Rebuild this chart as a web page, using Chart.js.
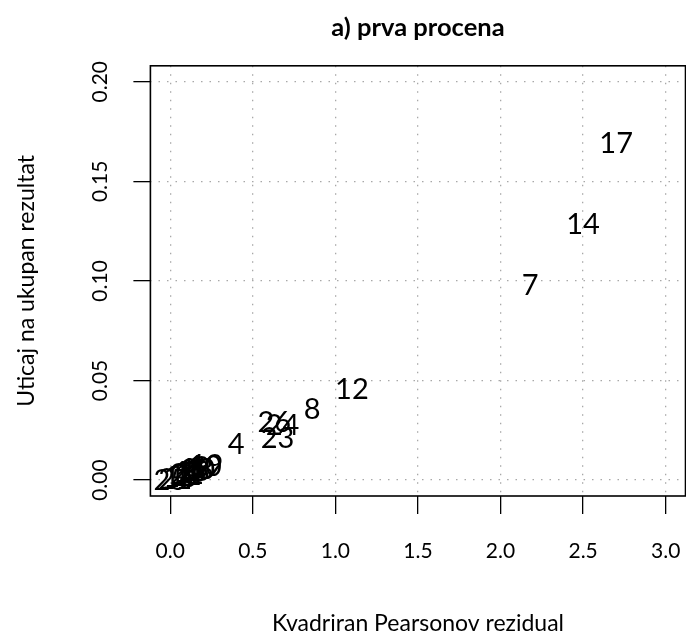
<!DOCTYPE html>
<html>
<head>
<meta charset="utf-8">
<script src="https://cdn.jsdelivr.net/npm/chart.js@4/dist/chart.umd.min.js"></script>
<style>
  html, body { margin: 0; padding: 0; background: #ffffff; }
  #wrap { width: 686px; height: 635px; }
</style>
</head>
<body>
<div id="wrap"><canvas id="chart" width="686" height="635"></canvas></div>
<script>
// Case numbers, squared Pearson residuals and influence on the overall result
const caseIds = [25, 21, 16, 2, 11, 22, 5, 15, 1, 13, 3, 18, 20, 6, 9, 10, 19,
                 4, 23, 26, 24, 8, 12, 7, 14, 17];
const pearsonSq = [0.00, 0.03, 0.06, 0.08, 0.09, 0.10, 0.11, 0.12, 0.13, 0.14, 0.15, 0.16, 0.17, 0.18, 0.19, 0.21, 0.22,
                   0.40, 0.65, 0.63, 0.68, 0.86, 1.10, 2.18, 2.50, 2.70];
const influence = [0.0002, 0.0010, 0.0020, 0.0025, 0.0030, 0.0035, 0.0040, 0.0045, 0.0050, 0.0050, 0.0055, 0.0060, 0.0060, 0.0065, 0.0070, 0.0075, 0.0080,
                   0.0181, 0.0213, 0.0296, 0.0280, 0.0357, 0.0457, 0.0980, 0.1286, 0.1693];

const xTickValues = [0, 0.5, 1, 1.5, 2, 2.5, 3];
const yTickValues = [0, 0.05, 0.10, 0.15, 0.20];

const chartTitle = 'a) prva procena';
const xTitle = 'Kvadriran Pearsonov rezidual';
const yTitle = 'Uticaj na ukupan rezultat';

const FONT = 'Lato';
const LABEL_SIZE = 29;

// Each case number is written at its own point, centred on it
const caseLabels = {
  id: 'caseLabels',
  afterDatasetsDraw(chart) {
    const ctx = chart.ctx;
    const meta = chart.getDatasetMeta(0);
    ctx.save();
    ctx.fillStyle = '#000000';
    ctx.font = LABEL_SIZE + 'px ' + FONT;
    ctx.textAlign = 'center';
    ctx.textBaseline = 'alphabetic';
    meta.data.forEach((pt, i) => {
      ctx.fillText(String(caseIds[i]), pt.x, pt.y + LABEL_SIZE * 0.36);
    });
    ctx.restore();
  }
};

// Frame round the plotting region
const plotBox = {
  id: 'plotBox',
  afterDraw(chart) {
    const a = chart.chartArea;
    const ctx = chart.ctx;
    ctx.save();
    ctx.strokeStyle = '#000000';
    ctx.lineWidth = 1.6;
    ctx.strokeRect(a.left, a.top, a.right - a.left, a.bottom - a.top);
    ctx.restore();
  }
};

const gridStyle = {
  color: '#a8a8a8',
  lineWidth: 1.3,
  drawTicks: true,
  tickLength: 18,
  tickColor: '#000000',
  tickWidth: 1.3,
  tickBorderDash: []
};

// Fixed axis sizes, with no extra room kept for overhanging tick labels
function fixSize(prop, value) {
  return s => {
    s[prop] = value;
    s.paddingLeft = 0;
    s.paddingRight = 0;
    s.paddingTop = 0;
    s.paddingBottom = 0;
  };
}

new Chart(document.getElementById('chart'), {
  type: 'scatter',
  data: {
    datasets: [{
      data: caseIds.map((id, i) => ({ x: pearsonSq[i], y: influence[i] })),
      pointRadius: 0,
      pointHoverRadius: 0,
      showLine: false
    }]
  },
  options: {
    responsive: false,
    animation: false,
    devicePixelRatio: 1,
    events: [],
    layout: { padding: { left: 0, right: 0.5, top: 0, bottom: 0 } },
    plugins: {
      legend: { display: false },
      tooltip: { enabled: false },
      title: {
        display: true,
        text: chartTitle,
        fullSize: false,
        color: '#000000',
        font: { family: FONT, size: 25.5, weight: 'bold', lineHeight: 1.2 },
        padding: { top: 12, bottom: 23.2 }
      }
    },
    scales: {
      x: {
        type: 'linear',
        min: -0.12,
        max: 3.12,
        afterBuildTicks: s => { s.ticks = xTickValues.map(v => ({ value: v })); },
        afterFit: fixSize('height', 139),
        grid: gridStyle,
        border: { display: false, dash: [1.5, 7] },
        ticks: {
          color: '#000000',
          font: { family: FONT, size: 21 },
          padding: 25,
          autoSkip: false,
          minRotation: 0,
          maxRotation: 0,
          callback: v => Number(v).toFixed(1)
        },
        title: {
          display: true,
          text: xTitle,
          color: '#000000',
          font: { family: FONT, size: 23, lineHeight: 1.0 },
          padding: { top: 0, bottom: 0 }
        }
      },
      y: {
        type: 'linear',
        min: -0.008,
        max: 0.208,
        afterBuildTicks: s => { s.ticks = yTickValues.map(v => ({ value: v })); },
        afterFit: fixSize('width', 150.4),
        grid: Object.assign({}, gridStyle, { tickLength: 17 }),
        border: { display: false, dash: [1.5, 7] },
        ticks: {
          color: '#000000',
          font: { family: FONT, size: 21 },
          padding: 12.5,
          autoSkip: false,
          minRotation: 90,
          maxRotation: 90,
          crossAlign: 'center',
          callback: v => Number(v).toFixed(2)
        },
        title: {
          display: true,
          text: yTitle,
          color: '#000000',
          font: { family: FONT, size: 23, lineHeight: 1.0 },
          padding: { top: 15.5, bottom: 0 }
        }
      }
    }
  },
  plugins: [caseLabels, plotBox]
});
</script>
</body>
</html>
